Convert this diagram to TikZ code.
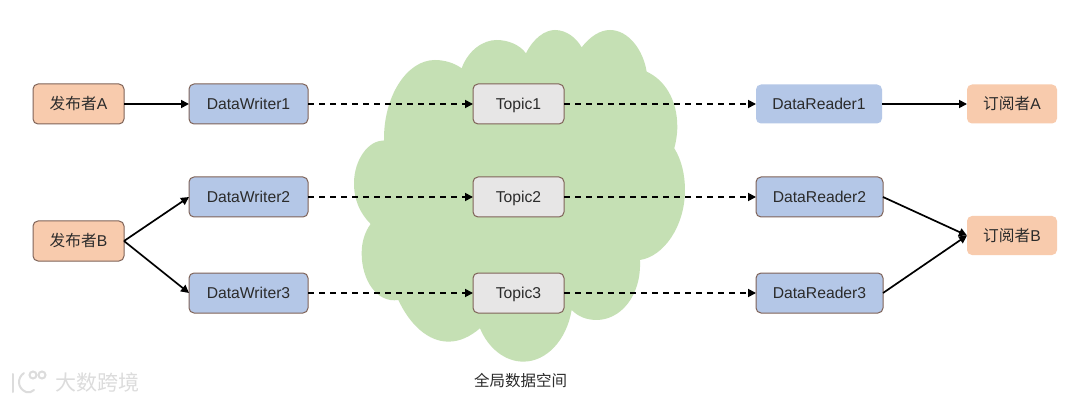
\documentclass[tikz,border=0pt]{standalone}
\usepackage{fontspec}
\setmainfont{Liberation Sans}
\newfontfamily\cjk{Noto Sans CJK SC}
\usetikzlibrary{arrows.meta}
\definecolor{pubfill}{HTML}{F8CBAD}
\definecolor{dwfill}{HTML}{B4C7E7}
\definecolor{topicfill}{HTML}{E7E6E6}
\definecolor{cloudfill}{HTML}{C5E0B4}
\definecolor{edgebrown}{HTML}{7F6358}
\definecolor{inktext}{HTML}{2B2B2B}
\definecolor{wm}{HTML}{DCDCDC}
\tikzset{
  boxbase/.style={rounded corners=5pt,inner sep=0pt,outer sep=0pt,text=inktext,font=\fontsize{15.7}{18}\selectfont,anchor=center,text height=14pt,text depth=3pt},
  pubbox/.style={boxbase,draw=edgebrown,line width=1pt,fill=pubfill,minimum width=91pt,minimum height=40pt},
  subbox/.style={boxbase,fill=pubfill,minimum width=90pt,minimum height=39pt},
  dwbox/.style={boxbase,draw=edgebrown,line width=1pt,fill=dwfill,minimum width=119pt,minimum height=40pt},
  drbox/.style={boxbase,draw=edgebrown,line width=1pt,fill=dwfill,minimum width=127pt,minimum height=40pt},
  drplain/.style={boxbase,fill=dwfill,minimum width=126pt,minimum height=39pt},
  topicbox/.style={boxbase,draw=edgebrown,line width=1pt,fill=topicfill,minimum width=91pt,minimum height=40pt},
  solidlink/.style={line width=1.7pt,black,-{Triangle[length=8pt,width=8pt]}},
  dashlink/.style={line width=1.7pt,black,dash pattern=on 6pt off 5pt,-{Triangle[length=8pt,width=8pt]}},
  wmline/.style={wm,line width=2pt,line cap=round},
}
\begin{document}
\begin{tikzpicture}[x=1pt,y=-1pt]
\useasboundingbox (0,0) rectangle (1080,401);
\fill[white] (0,0) rectangle (1080,401);
% cloud (traced in 3x crop coordinates)
\begin{scope}[shift={(340,20)},x=0.3333pt,y=-0.3333pt]
\fill[cloudfill] (132,362)
 .. controls (130,230) and (200,120) .. (285,120)
 .. controls (315,120) and (345,130) .. (365,145)
 .. controls (385,90) and (430,60) .. (470,60)
 .. controls (505,60) and (540,75) .. (558,100)
 .. controls (580,55) and (615,30) .. (645,30)
 .. controls (680,30) and (710,55) .. (725,82)
 .. controls (750,50) and (780,30) .. (810,30)
 .. controls (865,30) and (910,90) .. (920,155)
 .. controls (975,180) and (1012,240) .. (1012,320)
 .. controls (1012,345) and (1008,365) .. (1003,385)
 .. controls (1025,420) and (1035,465) .. (1035,510)
 .. controls (1035,620) and (970,710) .. (900,720)
 .. controls (905,830) and (840,900) .. (770,900)
 .. controls (740,900) and (715,890) .. (695,870)
 .. controls (680,960) and (620,1025) .. (550,1025)
 .. controls (495,1025) and (445,985) .. (420,925)
 .. controls (390,950) and (360,965) .. (325,965)
 .. controls (265,965) and (210,915) .. (175,840)
 .. controls (110,850) and (65,780) .. (65,700)
 .. controls (65,665) and (75,635) .. (92,612)
 .. controls (60,580) and (42,540) .. (42,490)
 .. controls (42,420) and (85,360) .. (132,362)
 -- cycle;
\end{scope}
% faint logo mark
\draw[wmline] (13,374) -- (13,392);
\draw[wmline] (24,373) .. controls (17,378) and (17,388) .. (26,392) .. controls (29,393) and (32,392) .. (34,390);
\draw[wmline] (33,375) circle (3.5pt);
\draw[wmline] (42,375) circle (3.5pt);
% nodes
\node[pubbox] (pa) at (78.5,104) {{\cjk 发布者}A};
\node[pubbox] (pb) at (78.5,241) {{\cjk 发布者}B};
\node[dwbox] (w1) at (248.5,104) {DataWriter1};
\node[dwbox] (w2) at (248.5,197) {DataWriter2};
\node[dwbox] (w3) at (248.5,293) {DataWriter3};
\node[topicbox] (t1) at (518.5,104) {Topic1};
\node[topicbox] (t2) at (518.5,197) {Topic2};
\node[topicbox] (t3) at (518.5,293) {Topic3};
\node[drplain] (r1) at (819,104) {DataReader1};
\node[drbox] (r2) at (819.5,197) {DataReader2};
\node[drbox] (r3) at (819.5,293) {DataReader3};
\node[subbox] (sa) at (1012,104) {{\cjk 订阅者}A};
\node[subbox] (sb) at (1012,235.5) {{\cjk 订阅者}B};
\node[text=inktext,font=\fontsize{15.5}{18}\selectfont\cjk] (label) at (520.5,381) {全局数据空间};
\node[text=wm,font=\fontsize{21}{24}\selectfont\cjk] (mark) at (98,382) {大数跨境};
% connectors
\draw[solidlink] (pa.east) -- (w1.west);
\draw[solidlink] (pb.east) -- (w2.west);
\draw[solidlink] (pb.east) -- (w3.west);
\draw[dashlink] (w1.east) -- (t1.west);
\draw[dashlink] (w2.east) -- (t2.west);
\draw[dashlink] (w3.east) -- (t3.west);
\draw[dashlink] (t1.east) -- (r1.west);
\draw[dashlink] (t2.east) -- (r2.west);
\draw[dashlink] (t3.east) -- (r3.west);
\draw[solidlink] (r1.east) -- (sa.west);
\draw[solidlink] (r2.east) -- (sb.west);
\draw[solidlink] (r3.east) -- (sb.west);
\end{tikzpicture}
\end{document}
